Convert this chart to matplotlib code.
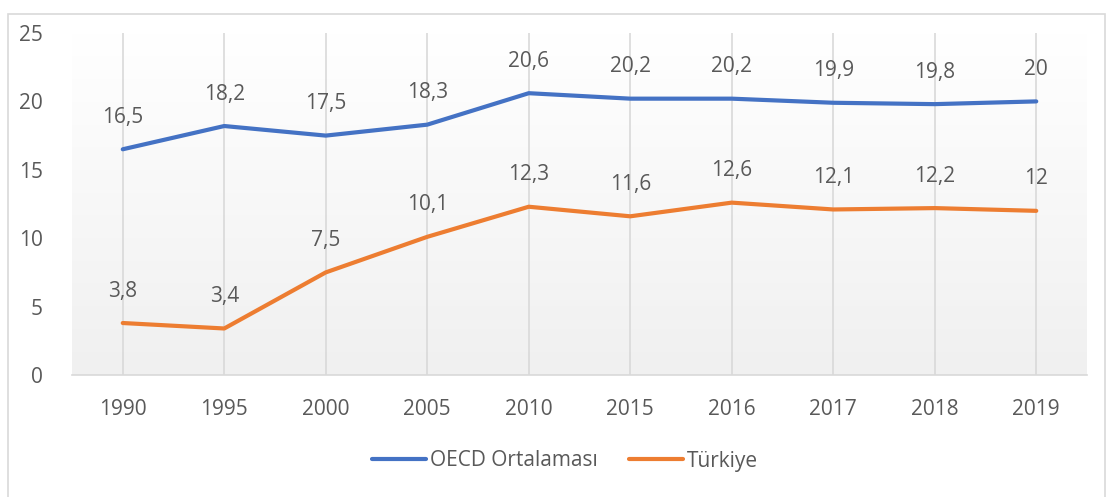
import numpy as np
import matplotlib.pyplot as plt
from matplotlib.patches import Rectangle

# Veriler
yillar = ['1990', '1995', '2000', '2005', '2010', '2015', '2016', '2017', '2018', '2019']
oecd = [16.5, 18.2, 17.5, 18.3, 20.6, 20.2, 20.2, 19.9, 19.8, 20]
turkiye = [3.8, 3.4, 7.5, 10.1, 12.3, 11.6, 12.6, 12.1, 12.2, 12]
y_ticks = [0, 5, 10, 15, 20, 25]

plt.rcParams['font.family'] = ['Open Sans', 'DejaVu Sans']
metin = '#595959'
fs = 15

fig = plt.figure(figsize=(11.19, 4.97), dpi=100)
# dis cerceve
fig.patches.append(Rectangle((8 / 1119, -0.01), 1097 / 1119, 1 - 14 / 497 + 0.01,
                             transform=fig.transFigure, fill=False,
                             edgecolor='#d9d9d9', linewidth=1.2))

ax = fig.add_axes([72 / 1119, 1 - 375 / 497, 1015 / 1119, 342 / 497])
x = np.arange(len(yillar))

# arka plan gradyani
grad = np.linspace(0, 1, 256).reshape(-1, 1)
ax.imshow(grad, extent=(-0.5, len(yillar) - 0.5, 0, 25), aspect='auto',
          cmap=plt.matplotlib.colors.LinearSegmentedColormap.from_list('g', ['#ffffff', '#f0f0f0']),
          origin='upper', zorder=0)

for xi in x:
    ax.axvline(xi, color='#d9d9d9', linewidth=1.2, zorder=1)

ax.plot(x, oecd, color='#4472C4', linewidth=3, solid_capstyle='round', label='OECD Ortalaması', zorder=3)
ax.plot(x, turkiye, color='#ED7D31', linewidth=3, solid_capstyle='round', label='Türkiye', zorder=3)

def fmt(v):
    return str(int(v)) if v == int(v) else str(v).replace('.', ',')

for xi, v in zip(x, oecd):
    ax.annotate(fmt(v), (xi, v), xytext=(0, 23), textcoords='offset points',
                ha='center', va='center', fontsize=fs, color=metin)
for xi, v in zip(x, turkiye):
    ax.annotate(fmt(v), (xi, v), xytext=(0, 23), textcoords='offset points',
                ha='center', va='center', fontsize=fs, color=metin)

ax.set_xlim(-0.5, len(yillar) - 0.5)
ax.set_ylim(0, 25)
ax.set_xticks(x)
ax.set_xticklabels(yillar)
ax.set_yticks(y_ticks)
ax.tick_params(axis='both', length=0, labelsize=fs, colors=metin)
ax.tick_params(axis='x', pad=17)
ax.tick_params(axis='y', pad=21)
for s in ['top', 'right', 'left']:
    ax.spines[s].set_visible(False)
ax.spines['bottom'].set_color('#d9d9d9')
ax.spines['bottom'].set_linewidth(1.2)

leg = fig.legend(loc='center', bbox_to_anchor=(565 / 1119, 1 - 461 / 497), ncol=2,
                 frameon=False, fontsize=fs, handlelength=2.6, columnspacing=1.5,
                 handletextpad=0.2)
for t in leg.get_texts():
    t.set_color(metin)

fig.savefig('out.png', dpi=100)
